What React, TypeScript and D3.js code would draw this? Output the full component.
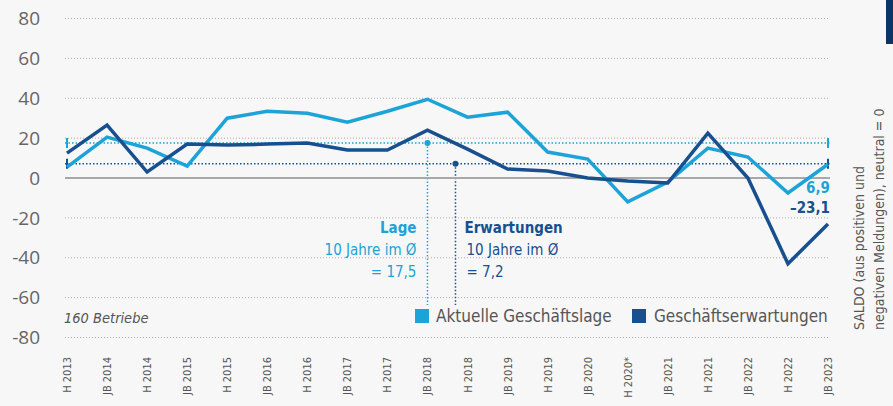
import React from 'react';
import { line, scaleLinear, scalePoint } from 'd3';

const categories = [
  'H 2013', 'JB 2014', 'H 2014', 'JB 2015', 'H 2015', 'JB 2016', 'H 2016',
  'JB 2017', 'H 2017', 'JB 2018', 'H 2018', 'JB 2019', 'H 2019', 'JB 2020',
  'H 2020*', 'JB 2021', 'H 2021', 'JB 2022', 'H 2022', 'JB 2023',
];

const lage = [
  5.5, 20.5, 15, 6, 30, 33.5, 32.5, 28, 33.5, 39.5, 30.5, 33, 13, 9.5, -12,
  -2, 15, 10.5, -7.5, 6.9,
];

const erwartungen = [
  12.5, 26.5, 3, 17, 16.5, 17, 17.5, 14, 14, 24, 14.5, 4.5, 3.5, 0, -1.5,
  -2.5, 22.5, 0, -43, -23.1,
];

const yTicks = [80, 60, 40, 20, 0, -20, -40, -60, -80];

const avgLage = 17.5;
const avgErwartungen = 7.2;

const LIGHT = '#1ca3d8';
const DARK = '#174f8f';
const FONT = '"DejaVu Sans Condensed", "Open Sans", sans-serif';

export default function App() {
  const width = 893;
  const height = 406;
  const left = 65;
  const right = 830;

  const x = scalePoint<string>().domain(categories).range([67, 828]);
  const y = scaleLinear().domain([-80, 80]).range([337.5, 18.5]);

  const path = line<number>()
    .x((_, i) => x(categories[i]) as number)
    .y((d) => y(d));

  const xAvg1 = x('JB 2018') as number;
  const xAvg2 = xAvg1 + 28;
  const last = categories[categories.length - 1];

  return (
    <svg
      width={width}
      height={height}
      style={{ position: 'absolute', left: 0, top: 0, background: '#f7f7f7' }}
      fontFamily={FONT}
    >
      <rect x={886} y={0} width={7} height={44} fill="#0c3566" />

      {yTicks.map((t) => (
        <g key={t}>
          {t !== 0 && (
            <line
              x1={left}
              x2={right}
              y1={y(t)}
              y2={y(t)}
              stroke="#aaa"
              strokeWidth={1}
              strokeDasharray="1 2"
            />
          )}
          <text
            x={40}
            y={y(t)}
            dy="0.35em"
            textAnchor="end"
            fontSize={19}
            fontFamily='"Open Sans", sans-serif'
            fill="#666"
          >
            {t < 0 ? `-${Math.abs(t)}` : t}
          </text>
        </g>
      ))}

      {/* average lines */}
      <line x1={left} x2={right} y1={y(avgLage)} y2={y(avgLage)} stroke={LIGHT} strokeWidth={1.5} strokeDasharray="1.5 2" />
      <line x1={left} x2={right} y1={y(avgErwartungen)} y2={y(avgErwartungen)} stroke={DARK} strokeWidth={1.5} strokeDasharray="1.5 2" />
      <line x1={67} x2={67} y1={y(avgLage) - 5} y2={y(avgLage) + 5} stroke={LIGHT} strokeWidth={2} />
      <line x1={67} x2={67} y1={y(avgErwartungen) - 5} y2={y(avgErwartungen) + 5} stroke={DARK} strokeWidth={2} />
      <line x1={828} x2={828} y1={y(avgLage) - 5} y2={y(avgLage) + 5} stroke={LIGHT} strokeWidth={2} />
      <line x1={828} x2={828} y1={y(avgErwartungen) - 5} y2={y(avgErwartungen) + 5} stroke={DARK} strokeWidth={2} />

      <line x1={xAvg1} x2={xAvg1} y1={y(avgLage)} y2={305} stroke={LIGHT} strokeWidth={1.5} strokeDasharray="1.5 2" />
      <line x1={xAvg2} x2={xAvg2} y1={y(avgErwartungen)} y2={305} stroke={DARK} strokeWidth={1.5} strokeDasharray="1.5 2" />
      <circle cx={xAvg1} cy={y(avgLage)} r={3} fill={LIGHT} />
      <circle cx={xAvg2} cy={y(avgErwartungen)} r={3} fill={DARK} />

      <line x1={left} x2={right} y1={y(0)} y2={y(0)} stroke="#a8a8a8" strokeWidth={2} />

      <path d={path(lage) ?? ''} fill="none" stroke={LIGHT} strokeWidth={3.5} strokeLinejoin="miter" />
      <path d={path(erwartungen) ?? ''} fill="none" stroke={DARK} strokeWidth={3.5} strokeLinejoin="miter" />

      <text x={(x(last) as number) + 2} y={193} textAnchor="end" fontSize={15} fontWeight="bold" fill={LIGHT}>
        {String(lage[lage.length - 1]).replace('.', ',')}
      </text>
      <text x={(x(last) as number) + 2} y={213} textAnchor="end" fontSize={15} fontWeight="bold" fill={DARK}>
        {'–' + String(Math.abs(erwartungen[erwartungen.length - 1])).replace('.', ',')}
      </text>

      <g fontSize={15} fill={LIGHT} textAnchor="end">
        <text x={xAvg1 - 11} y={233} fontWeight="bold">Lage</text>
        <text x={xAvg1 - 11} y={255}>10 Jahre im Ø</text>
        <text x={xAvg1 - 11} y={277}>= 17,5</text>
      </g>
      <g fontSize={15} fill={DARK} textAnchor="start">
        <text x={xAvg2 + 9} y={233} fontWeight="bold">Erwartungen</text>
        <text x={xAvg2 + 11} y={255}>10 Jahre im Ø</text>
        <text x={xAvg2 + 11} y={277}>= 7,2</text>
      </g>

      <text x={64} y={323} fontSize={14.5} fontStyle="italic" fill="#555">160 Betriebe</text>

      <rect x={415} y={309} width={14} height={14} fill={LIGHT} />
      <text x={436} y={322} fontSize={17} fill="#555">Aktuelle Geschäftslage</text>
      <rect x={632} y={309} width={14} height={14} fill={DARK} />
      <text x={654} y={322} fontSize={17} fill="#555">Geschäftserwartungen</text>

      {categories.map((c) => (
        <text
          key={c}
          transform={`translate(${(x(c) as number) + 4},357) rotate(-90)`}
          textAnchor="end"
          fontSize={11}
          fill="#555"
        >
          {c}
        </text>
      ))}

      <g fontSize={14} fill="#555">
        <text transform="translate(864,330) rotate(-90)">SALDO (aus positiven und</text>
        <text transform="translate(884,330) rotate(-90)">negativen Meldungen), neutral = 0</text>
      </g>
    </svg>
  );
}
